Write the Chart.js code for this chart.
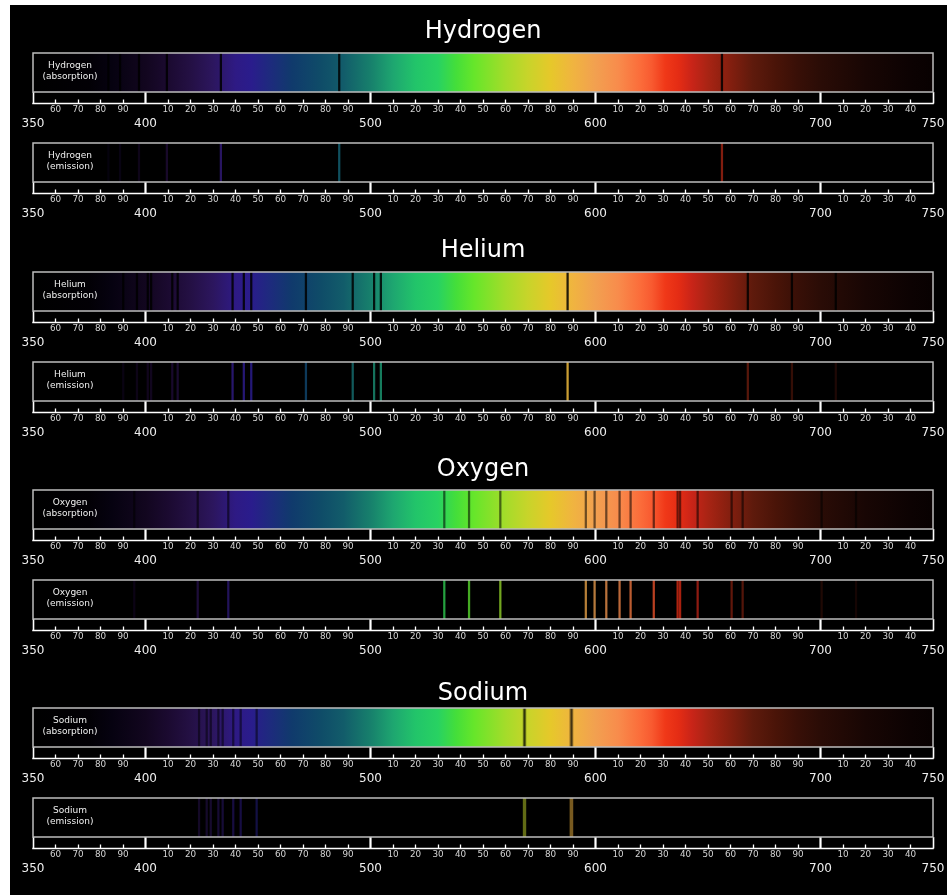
<!DOCTYPE html>
<html>
<head>
<meta charset="utf-8">
<title>Emission and absorption spectra</title>
<script src="https://cdn.jsdelivr.net/npm/chart.js@4.4.1/dist/chart.umd.min.js"></script>
<style>
  html, body { margin: 0; padding: 0; background: #fff; overflow: hidden; width: 947px; height: 895px; }
  #stage { position: absolute; left: 10px; top: 5px; width: 937px; height: 890px; background: #000; }
  canvas { position: absolute; left: 0; }
</style>
</head>
<body>
<div id="stage"></div>
<script>
// ---- data -------------------------------------------------------------
const elements = ['Hydrogen', 'Helium', 'Oxygen', 'Sodium'];
const panelKinds = ['absorption', 'emission'];

// wavelengths (nm) of the spectral lines of each element
const hydrogenLines = [383.5, 388.7, 397.1, 409.5, 433.5, 486.1, 656.2];
const heliumLines = [390.1, 396.2, 401.0, 402.5, 411.9, 414.3, 438.7, 443.7, 447.0, 471.3,
                     492.1, 501.6, 504.6, 587.6, 667.7, 687.3, 706.8];
const oxygenLines = [395.0, 423.2, 436.8, 532.8, 543.8, 557.7, 595.7, 599.6, 604.8, 610.7,
                     615.6, 625.9, 636.5, 637.6, 645.4, 660.5, 665.4, 700.5, 715.8];
const sodiumLines = [423.8, 427.2, 429.0, 432.4, 434.3, 439.0, 442.3, 449.4,
                     568.2, 568.7, 589.0, 589.6];
const lineSets = [hydrogenLines, heliumLines, oxygenLines, sodiumLines];

// wavelength axis
const wavelengthMin = 350;
const wavelengthMax = 750;
const tickStep = 10;
const majorTickLabels = [350, 400, 500, 600, 700, 750];

// ---- look -------------------------------------------------------------
const FONT = '"DejaVu Sans", "Noto Sans", sans-serif';
Chart.defaults.font.family = FONT;

// visible-spectrum colour ramp (nm, colour)
const spectrumStops = [
  [350, '#000000'], [375, '#020005'], [385, '#060210'], [400, '#12061f'], [410, '#1b0a30'],
  [420, '#241044'], [430, '#2c165e'], [440, '#2e1a84'], [447, '#2a1c8c'], [455, '#1e2a7e'],
  [465, '#103a6c'], [478, '#0f4c68'], [488, '#125c6a'], [500, '#17806c'], [510, '#1ea670'],
  [520, '#22c46a'], [530, '#28d262'], [538, '#44de3a'], [546, '#66e62a'], [560, '#a4dc2a'],
  [570, '#c8d42a'], [580, '#e6c82a'], [590, '#f0b440'], [600, '#f2a050'], [610, '#f88c4c'],
  [620, '#fb6c3a'], [625, '#f85a30'], [631, '#f03818'], [637, '#e42c14'], [643, '#c82418'],
  [650, '#a82414'], [657, '#8e2010'], [670, '#5e1a0c'], [680, '#4a1408'], [690, '#380f07'],
  [700, '#2a0c06'], [720, '#180604'], [740, '#0c0202'], [750, '#080101']
];
const absorbAlpha = [0.85, 0.85, 0.55, 0.5];
const emitAlpha = [0.9, 0.85, 0.75, 0.5];

// layout (px)
const absorptionTops = [53, 272, 490, 708];
const emissionOffset = 90;
const PANEL_H = 39;
const RULER_H = 11.5;
const AXIS_H = 40;
const TITLE_HEAD = 50;
const EMISSION_HEAD = 8;
const titleGap = [14, 14, 13, 7];

function hexToRgb(h) {
  return [1, 3, 5].map(i => parseInt(h.slice(i, i + 2), 16));
}
function spectrumColor(w, alpha) {
  let i = 0;
  while (i < spectrumStops.length - 2 && spectrumStops[i + 1][0] < w) i++;
  const [w0, c0] = spectrumStops[i];
  const [w1, c1] = spectrumStops[i + 1];
  const t = Math.min(1, Math.max(0, (w - w0) / (w1 - w0)));
  const a = hexToRgb(c0), b = hexToRgb(c1);
  const rgb = a.map((v, k) => Math.round((v + (b[k] - v) * t) * alpha));
  return `rgb(${rgb[0]},${rgb[1]},${rgb[2]})`;
}
const isMajor = v => majorTickLabels.includes(v);

// spectrum background, frame, ruler baseline and caption of each panel
const spectrumPanel = {
  id: 'spectrumPanel',
  beforeDatasetsDraw(chart, args, opts) {
    const { ctx, chartArea: a, scales: { x } } = chart;
    ctx.save();
    if (opts.kind === 'absorption') {
      const g = ctx.createLinearGradient(a.left, 0, a.right, 0);
      spectrumStops.forEach(([w, c]) =>
        g.addColorStop((x.getPixelForValue(w) - a.left) / (a.right - a.left), c));
      ctx.fillStyle = g;
    } else {
      ctx.fillStyle = '#000';
    }
    ctx.fillRect(a.left, a.top, a.right - a.left, a.bottom - a.top);
    ctx.restore();
  },
  afterDraw(chart, args, opts) {
    const { ctx, chartArea: a, scales: { x } } = chart;
    ctx.save();
    ctx.strokeStyle = '#bdbdbd';
    ctx.lineWidth = 1.5;
    ctx.strokeRect(a.left, a.top, a.right - a.left, a.bottom - a.top);

    const y = x.top + RULER_H;
    ctx.strokeStyle = '#ffffff';
    ctx.lineWidth = 1.6;
    ctx.beginPath();
    ctx.moveTo(x.getPixelForValue(wavelengthMin) - 0.75, y);
    ctx.lineTo(x.getPixelForValue(wavelengthMax) + 0.75, y);
    ctx.stroke();

    ctx.fillStyle = '#f0f0f0';
    ctx.font = '9px ' + FONT;
    ctx.textAlign = 'center';
    ctx.textBaseline = 'middle';
    ctx.fillText(opts.element, a.left + 37, a.top + 12.5);
    ctx.fillText('(' + opts.kind + ')', a.left + 37, a.top + 24);
    ctx.restore();
  }
};

function buildPanel(ei, kind) {
  const element = elements[ei];
  const lines = lineSets[ei];
  const absorption = kind === 'absorption';
  const head = absorption ? TITLE_HEAD : EMISSION_HEAD;
  const panelTop = absorptionTops[ei] + (absorption ? 0 : emissionOffset);

  const canvas = document.createElement('canvas');
  canvas.width = 947;
  canvas.height = head + PANEL_H + AXIS_H + 6;
  canvas.style.top = (panelTop - head) + 'px';
  document.body.appendChild(canvas);

  const colors = lines.map(w => absorption
    ? `rgba(0,0,0,${absorbAlpha[ei]})`
    : spectrumColor(w, emitAlpha[ei]));

  const tb = Math.max(0, titleGap[ei] - 7.3);

  new Chart(canvas, {
    type: 'bar',
    data: {
      datasets: [{
        label: element + ' (' + kind + ')',
        data: lines.map(w => ({ x: w, y: 1 })),
        backgroundColor: colors,
        borderWidth: 0,
        barThickness: 1.6
      }]
    },
    options: {
      responsive: false,
      animation: false,
      devicePixelRatio: 1,
      layout: { padding: { left: 33, right: 14, top: absorption ? 0 : head, bottom: 6 } },
      plugins: {
        legend: { display: false },
        tooltip: { enabled: false },
        title: {
          display: absorption,
          text: element,
          color: '#ffffff',
          font: { size: 24, weight: 'normal', lineHeight: 1.2 },
          padding: { top: TITLE_HEAD - 28.8 - tb, bottom: tb }
        },
        spectrumPanel: { kind, element }
      },
      scales: {
        x: {
          type: 'linear',
          min: wavelengthMin,
          max: wavelengthMax,
          offset: false,
          border: { display: false },
          grid: {
            offset: false,
            drawOnChartArea: false,
            drawTicks: true,
            tickLength: RULER_H,
            color: '#ffffff',
            tickColor: '#ffffff',
            tickWidth: ctx => (ctx.tick && isMajor(ctx.tick.value))
              ? ((ctx.tick.value === wavelengthMin || ctx.tick.value === wavelengthMax) ? 1.6 : 2.2)
              : 1.3,
            tickBorderDash: ctx => (ctx.tick && isMajor(ctx.tick.value)) ? [] : [0, RULER_H - 4, 4, 60]
          },
          ticks: {
            stepSize: tickStep,
            autoSkip: false,
            maxRotation: 0,
            minRotation: 0,
            padding: 1,
            color: ctx => (ctx.tick && isMajor(ctx.tick.value)) ? '#eeeeee' : '#d4d4d4',
            font: ctx => (ctx.tick && isMajor(ctx.tick.value))
              ? { size: 12, lineHeight: 1.07 }
              : { size: 8.8, lineHeight: 1.18 },
            callback: v => isMajor(v) ? ['', String(v)] : String(v % 100)
          },
          afterFit: s => { s.height = AXIS_H; }
        },
        y: { display: false, min: 0, max: 1 }
      }
    },
    plugins: [spectrumPanel]
  });
}

elements.forEach((el, i) => panelKinds.forEach(kind => buildPanel(i, kind)));
</script>
</body>
</html>
